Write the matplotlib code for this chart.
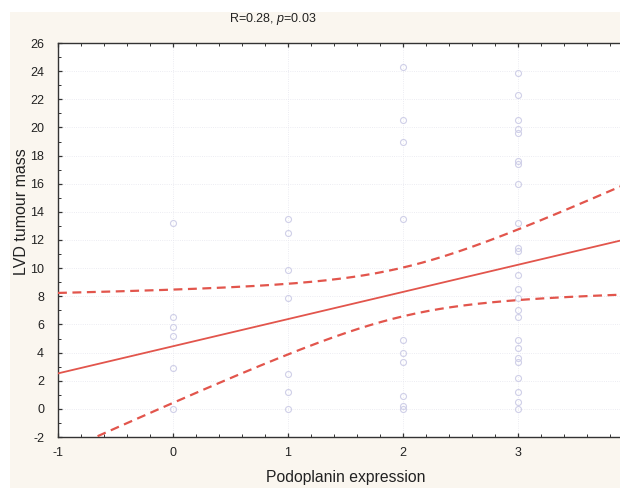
import numpy as np
import matplotlib.pyplot as plt
from matplotlib.patches import Rectangle
from matplotlib.ticker import MultipleLocator

plt.rcParams['font.family'] = ['Liberation Sans', 'DejaVu Sans']
plt.rcParams['mathtext.fontset'] = 'custom'
plt.rcParams['mathtext.rm'] = 'Liberation Sans'
plt.rcParams['mathtext.it'] = 'Liberation Sans:italic'
plt.rcParams['axes.unicode_minus'] = False

# data: LVD tumour mass per podoplanin expression level
lvd_0 = [13.2, 6.5, 5.85, 5.15, 2.9, 0.0]
lvd_1 = [13.5, 12.5, 9.9, 7.9, 2.5, 1.2, 0.0]
lvd_2 = [24.3, 20.5, 19.0, 13.5, 4.9, 4.0, 3.3, 0.9, 0.2, 0.0]
lvd_3 = [23.9, 22.3, 20.5, 19.9, 19.6, 17.6, 17.4, 16.0, 13.2, 11.4, 11.2,
         9.5, 8.5, 7.9, 7.0, 6.5, 4.9, 4.3, 3.6, 3.3, 2.2, 1.2, 0.5, 0.0]
levels = [0, 1, 2, 3]
xticks = [-1, 0, 1, 2, 3]

# regression line and 95% confidence band
intercept = 4.45
slope = 1.93
ci_center = 2.0
ci_a = 3.0
ci_b = 3.3

title = "R=0.28, $p$=0.03"
xlabel = "Podoplanin expression"
ylabel = "LVD tumour mass"

red = '#E2554C'
pt_color = '#CFCFE8'

fig = plt.figure(figsize=(6.2, 4.88), dpi=100, facecolor='white')
fig.patches.append(Rectangle((10 / 620, 0), 1, 1 - 12 / 488,
                             transform=fig.transFigure, facecolor='#FAF6EF',
                             edgecolor='none', zorder=-10))

ax = fig.add_axes([58 / 620, 51 / 488, 575 / 620, 394 / 488])
ax.set_facecolor('white')

for lv, vals in zip(levels, [lvd_0, lvd_1, lvd_2, lvd_3]):
    ax.plot([lv] * len(vals), vals, 'o', ms=4.3, mfc='none', mec=pt_color,
            mew=0.8, zorder=3)

xs = np.linspace(-1, 4, 200)
yhat = intercept + slope * xs
half = np.sqrt(ci_a + ci_b * (xs - ci_center) ** 2)
ax.plot(xs, yhat, color=red, lw=1.3, zorder=4)
ax.plot(xs, yhat + half, color=red, lw=1.6, ls=(0, (4, 2.5)), zorder=4)
ax.plot(xs, yhat - half, color=red, lw=1.6, ls=(0, (4, 2.5)), zorder=4)

ax.set_xlim(-1, 4)
ax.set_ylim(-2, 26)
ax.set_xticks(xticks)
ax.set_yticks(range(-2, 27, 2))
ax.xaxis.set_minor_locator(MultipleLocator(0.2))
ax.yaxis.set_minor_locator(MultipleLocator(1))
ax.grid(True, which='major', color='#E6E6EE', lw=0.6, ls=':')
ax.set_axisbelow(True)

ax.tick_params(which='both', direction='in', top=True, right=False,
               colors='#333333', labelcolor='#222222', labelsize=9)
ax.tick_params(which='major', length=3, width=0.9)
ax.tick_params(which='minor', length=2, width=0.7)
ax.tick_params(axis='y', pad=10)
ax.tick_params(axis='x', pad=7)
for side in ['left', 'bottom', 'top']:
    ax.spines[side].set_color('#333333')
    ax.spines[side].set_linewidth(1.0)

ax.set_xlabel(xlabel, fontsize=11.3, color='#222222')
ax.set_ylabel(ylabel, fontsize=11.5, color='#222222')
ax.xaxis.set_label_coords(0.5, -0.083)
ax.yaxis.set_label_coords(-0.05, 0.572)

fig.text(273 / 620, 1 - 19 / 488, title, ha='center', va='center',
         fontsize=9, color='#222222')

fig.savefig('out.png', dpi=100, facecolor=fig.get_facecolor())
